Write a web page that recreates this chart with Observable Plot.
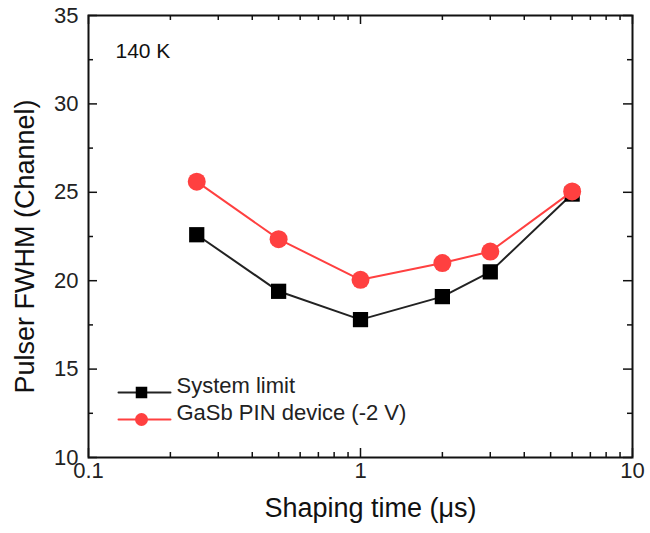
<!DOCTYPE html>
<html>
<head>
<meta charset="utf-8">
<script src="https://cdn.jsdelivr.net/npm/d3@7"></script>
<script src="https://cdn.jsdelivr.net/npm/@observablehq/plot@0.6"></script>
<style>
  html, body { margin: 0; padding: 0; background: #fff; }
  #chart svg { display: block; }
</style>
</head>
<body>
<div id="chart"></div>
<script>
// Data
const shapingTimes = [0.25, 0.5, 1, 2, 3, 6];
const systemLimit = [22.6, 19.4, 17.8, 19.1, 20.5, 24.9];
const gasbPin = [25.6, 22.35, 20.05, 21.0, 21.65, 25.05];
const seriesNames = ["System limit", "GaSb PIN device (-2 V)"];

const xMajorTicks = [0.1, 1, 10];
const xMinorTicks = [0.2, 0.3, 0.4, 0.5, 0.6, 0.7, 0.8, 0.9, 2, 3, 4, 5, 6, 7, 8, 9];
const yMajorTicks = [10, 15, 20, 25, 30, 35];
const yMinorTicks = [12.5, 17.5, 22.5, 27.5, 32.5];
const xTickLabels = ["0.1", "1", "10"];

const sys = shapingTimes.map((t, i) => ({t, v: systemLimit[i]}));
const pin = shapingTimes.map((t, i) => ({t, v: gasbPin[i]}));

const W = 650, H = 533;
const mt = 15, mb = 76, ml = 88, mr = 18;
const ph = H - mt - mb, pw = W - ml - mr;
const font = "Liberation Sans, Arial, sans-serif";
const red = "#ff4040";

const lineShape = {draw(ctx, l) { ctx.moveTo(0, 0); ctx.lineTo(0, -l); }};

const chart = Plot.plot({
  width: W, height: H,
  marginTop: mt, marginBottom: mb, marginLeft: ml, marginRight: mr,
  style: {fontFamily: font, background: "#fff"},
  x: {type: "log", domain: [0.1, 10], axis: null},
  y: {domain: [10, 35]},
  marks: [
    // inward ticks, bottom & top
    Plot.tickX(xMajorTicks, {x: d => d, insetTop: ph - 9, stroke: "#111", strokeWidth: 1.5}),
    Plot.tickX(xMajorTicks, {x: d => d, insetBottom: ph - 9, stroke: "#111", strokeWidth: 1.5}),
    Plot.tickX(xMinorTicks, {x: d => d, insetTop: ph - 5, stroke: "#111", strokeWidth: 1.5}),
    Plot.tickX(xMinorTicks, {x: d => d, insetBottom: ph - 5, stroke: "#111", strokeWidth: 1.5}),
    // inward ticks, left & right
    Plot.tickY(yMajorTicks, {y: d => d, insetRight: pw - 9, stroke: "#111", strokeWidth: 1.5}),
    Plot.tickY(yMajorTicks, {y: d => d, insetLeft: pw - 9, stroke: "#111", strokeWidth: 1.5}),
    Plot.tickY(yMinorTicks, {y: d => d, insetRight: pw - 5, stroke: "#111", strokeWidth: 1.5}),
    Plot.tickY(yMinorTicks, {y: d => d, insetLeft: pw - 5, stroke: "#111", strokeWidth: 1.5}),
    Plot.frame({stroke: "#111", strokeWidth: 2}),
    // tick labels
    Plot.text(xMajorTicks, {x: d => d, frameAnchor: "bottom", dy: 20, text: d => xTickLabels[xMajorTicks.indexOf(d)], fontSize: 22, fill: "#222", textAnchor: "middle"}),
    Plot.axisY(yMajorTicks, {tickSize: 0, tickPadding: 10, fontSize: 22, fill: "#222", label: null}),
    // axis titles
    Plot.text(["Shaping time (μs)"], {frameAnchor: "bottom", dx: 10, dy: 59, fontSize: 27, fill: "#111", textAnchor: "middle"}),
    Plot.text(["Pulser FWHM (Channel)"], {frameAnchor: "left", dx: -63, dy: 10, rotate: -90, fontSize: 27, fill: "#111", textAnchor: "middle"}),
    Plot.text(["140 K"], {frameAnchor: "top-left", dx: 27, dy: 28, fontSize: 21, textAnchor: "start", fill: "#111"}),
    // data
    Plot.line(sys, {x: "t", y: "v", stroke: "#222", strokeWidth: 2}),
    Plot.dot(sys, {x: "t", y: "v", symbol: "square", r: 8.6, fill: "#000", stroke: "none"}),
    Plot.line(pin, {x: "t", y: "v", stroke: red, strokeWidth: 2}),
    Plot.dot(pin, {x: "t", y: "v", symbol: "circle", r: 9, fill: red, stroke: "none"}),
    // legend
    Plot.vector([0], {frameAnchor: "bottom-left", dx: 30, dy: -65, length: 52, rotate: 90, anchor: "start", shape: lineShape, stroke: "#222", strokeWidth: 2}),
    Plot.dot([0], {frameAnchor: "bottom-left", dx: 53, dy: -65, symbol: "square", r: 6.5, fill: "#000"}),
    Plot.text([seriesNames[0]], {frameAnchor: "bottom-left", dx: 88, dy: -65, textAnchor: "start", fontSize: 22, fill: "#222"}),
    Plot.vector([0], {frameAnchor: "bottom-left", dx: 30, dy: -38, length: 52, rotate: 90, anchor: "start", shape: lineShape, stroke: red, strokeWidth: 2}),
    Plot.dot([0], {frameAnchor: "bottom-left", dx: 53, dy: -38, symbol: "circle", r: 6.5, fill: red}),
    Plot.text([seriesNames[1]], {frameAnchor: "bottom-left", dx: 88, dy: -38, textAnchor: "start", fontSize: 22, fill: "#222"})
  ]
});
document.getElementById("chart").appendChild(chart);
</script>
</body>
</html>
